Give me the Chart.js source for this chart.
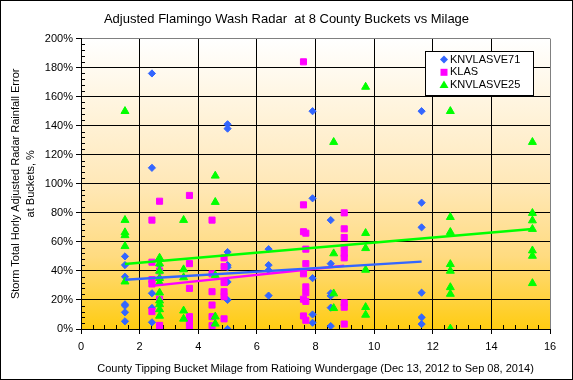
<!DOCTYPE html>
<html lang="en">
<head>
    <meta charset="UTF-8">
    <title>Adjusted Flamingo Wash Radar at 8 County Buckets vs Milage</title>
    <script src="https://cdn.jsdelivr.net/npm/chart.js"></script>
    <style>
        html, body {
            margin: 0;
            padding: 0;
            background: #fff;
        }
        .wrap {
            width: 573px;
            height: 380px;
        }
    </style>
</head>
<body>
    <div class="wrap"><canvas id="radarChart" width="573" height="380"></canvas></div>
    <script>
        // bucket milage (x) and the error readings (%) seen at each one
        const knv71Miles = [1.5, 2.42, 2.68, 5.0, 6.4, 7.9, 8.52, 11.62];
        const knv71Err = [
            [50, 44, 36, 17, 16, 11.5, 5.3],
            [176, 111, 24.6, 14.5, 4.6],
            [44, 35],
            [141, 138, 53, 44, 42.5, 32.4, 20, 0],
            [55, 44, 40.5, 23],
            [150, 90, 35, 10, 4.3],
            [75, 45, 24.6, 22.8, 14.7, 2],
            [150, 87, 70, 25, 8, 3.4]
        ];

        const klasMiles = [2.42, 2.68, 3.7, 4.47, 4.88, 7.59, 7.67, 8.98];
        const klasErr = [
            [75, 46, 34, 31, 12],
            [88, 40, 20.5, 2.5, 0.5],
            [92, 45, 28, 8.5, 5, 1.6],
            [75, 38, 25.7, 16.5, 8.5, 2.3],
            [49, 43, 32, 25.7, 22.3, 7],
            [184, 85.5, 67, 38, 20.5, 9],
            [66, 55, 45, 29, 25, 19, 6],
            [80, 69, 63, 56, 52, 49, 18, 15, 3.4]
        ];

        const knv25Miles = [1.5, 2.68, 3.5, 4.58, 8.62, 9.71, 12.6, 15.4];
        const knv25Err = [
            [150, 75, 66.5, 64.5, 57, 32.6],
            [49, 45, 40, 35, 32, 25, 19.5, 17, 13.5, 9],
            [75, 41, 35.5, 12.6, 7],
            [105.5, 87.4, 37, 8.5, 3.6],
            [128.7, 52, 24.4, 14.3],
            [166.7, 66, 55.6, 40.7, 15, 9.7],
            [150, 77, 66.7, 44.6, 40, 28.7, 24.1, 0.2],
            [128.7, 79.8, 74.7, 68.8, 54, 50.3, 31.5]
        ];

        // linear trend lines, end points
        const knv71TrendX = [1.5, 11.62];
        const knv71TrendY = [34, 46.4];
        const klasTrendX = [2.42, 8.98];
        const klasTrendY = [29.7, 43.5];
        const knv25TrendX = [1.5, 15.4];
        const knv25TrendY = [44.8, 68.8];

        const seriesNames = ["KNVLASVE71", "KLAS", "KNVLASVE25"];
        const seriesColors = ["#3366ff", "#ff00ff", "#00ff00"];

        function toPoints(miles, errs) {
            const pts = [];
            miles.forEach((m, i) => errs[i].forEach(e => pts.push({ x: m, y: e })));
            return pts;
        }
        function toLine(xs, ys) {
            return xs.map((x, i) => ({ x: x, y: ys[i] }));
        }

        Chart.defaults.font.family = "'Liberation Sans', Arial, sans-serif";
        Chart.defaults.font.size = 11;
        Chart.defaults.color = "#000";

        const chartBg = {
            id: "chartBg",
            beforeDraw(chart) {
                const { ctx, chartArea: a, width, height } = chart;
                ctx.save();
                ctx.fillStyle = "#fff";
                ctx.fillRect(0, 0, width, height);
                const g = ctx.createLinearGradient(0, a.top, 0, a.bottom);
                g.addColorStop(0, "#ffffff");
                g.addColorStop(0.5, "#ffe8b8");
                g.addColorStop(0.75, "#ffdb80");
                g.addColorStop(1, "#ffcc12");
                ctx.fillStyle = g;
                ctx.fillRect(a.left, a.top, a.right - a.left, a.bottom - a.top);
                ctx.restore();
            },
            afterDraw(chart) {
                const { ctx, width, height } = chart;
                ctx.save();
                ctx.strokeStyle = "#000";
                ctx.lineWidth = 1;
                ctx.strokeRect(0.5, 0.5, width - 1, height - 1);
                ctx.restore();
            }
        };

        // small inside ticks between the labelled ones
        const minorTicks = {
            id: "minorTicks",
            beforeDatasetsDraw(chart) {
                const { ctx, chartArea: a, scales } = chart;
                ctx.save();
                ctx.strokeStyle = "#000";
                ctx.lineWidth = 1;
                ctx.beginPath();
                for (let k = 1; k < 50; k++) {
                    if (k % 5 === 0) continue;
                    const y = Math.round(scales.y.getPixelForValue(k * 4)) + 0.5;
                    ctx.moveTo(a.left, y);
                    ctx.lineTo(a.left + 4, y);
                }
                for (let k = 1; k < 40; k++) {
                    if (k % 5 === 0) continue;
                    const x = Math.round(scales.x.getPixelForValue(k * 0.4)) + 0.5;
                    ctx.moveTo(x, a.bottom);
                    ctx.lineTo(x, a.bottom - 4);
                }
                ctx.stroke();
                ctx.restore();
            }
        };

        function drawMarker(ctx, style, x, y, color) {
            ctx.fillStyle = color;
            ctx.beginPath();
            if (style === "rectRot") {
                ctx.moveTo(x - 4, y); ctx.lineTo(x, y - 4); ctx.lineTo(x + 4, y); ctx.lineTo(x, y + 4);
            } else if (style === "rect") {
                ctx.rect(x - 3.5, y - 3.5, 7, 7);
            } else {
                ctx.moveTo(x, y - 4.5); ctx.lineTo(x + 4.5, y + 3); ctx.lineTo(x - 4.5, y + 3);
            }
            ctx.closePath();
            ctx.fill();
        }

        const boxLegend = {
            id: "boxLegend",
            afterDraw(chart) {
                const { ctx } = chart;
                const left = 425.5, top = 51.5, w = 108, h = 44;
                ctx.save();
                ctx.fillStyle = "#fff";
                ctx.fillRect(left, top, w, h);
                ctx.strokeStyle = "#000";
                ctx.lineWidth = 1;
                ctx.strokeRect(left, top, w, h);
                ctx.font = "11px 'Liberation Sans', Arial, sans-serif";
                ctx.textBaseline = "middle";
                chart.data.datasets.slice(0, 3).forEach((ds, i) => {
                    const cy = 59.5 + i * 12.8;
                    drawMarker(ctx, ds.pointStyle, 444, cy, ds.backgroundColor);
                    ctx.fillStyle = "#000";
                    ctx.fillText(ds.label, 450, cy);
                });
                ctx.restore();
            }
        };

        const ctx = document.getElementById("radarChart").getContext("2d");
        const radarChart = new Chart(ctx, {
            type: "scatter",
            data: {
                datasets: [
                    {
                        label: seriesNames[0],
                        data: toPoints(knv71Miles, knv71Err),
                        pointStyle: "rectRot",
                        pointRadius: 3.6,
                        borderWidth: 1,
                        backgroundColor: seriesColors[0],
                        borderColor: seriesColors[0],
                        order: 3
                    },
                    {
                        label: seriesNames[1],
                        data: toPoints(klasMiles, klasErr),
                        pointStyle: "rect",
                        pointRadius: 4.3,
                        borderWidth: 1,
                        backgroundColor: seriesColors[1],
                        borderColor: seriesColors[1],
                        order: 2
                    },
                    {
                        label: seriesNames[2],
                        data: toPoints(knv25Miles, knv25Err),
                        pointStyle: "triangle",
                        pointRadius: 4.6,
                        borderWidth: 1,
                        backgroundColor: seriesColors[2],
                        borderColor: seriesColors[2],
                        order: 1
                    },
                    {
                        label: "KNVLASVE71 trend",
                        data: toLine(knv71TrendX, knv71TrendY),
                        showLine: true,
                        pointRadius: 0,
                        borderWidth: 2.5,
                        borderColor: seriesColors[0],
                        order: 0
                    },
                    {
                        label: "KLAS trend",
                        data: toLine(klasTrendX, klasTrendY),
                        showLine: true,
                        pointRadius: 0,
                        borderWidth: 2.5,
                        borderColor: seriesColors[1],
                        order: 0
                    },
                    {
                        label: "KNVLASVE25 trend",
                        data: toLine(knv25TrendX, knv25TrendY),
                        showLine: true,
                        pointRadius: 0,
                        borderWidth: 2.5,
                        borderColor: seriesColors[2],
                        order: 0
                    }
                ]
            },
            options: {
                responsive: false,
                animation: false,
                layout: { padding: 0 },
                plugins: {
                    legend: { display: false },
                    tooltip: { enabled: false },
                    title: {
                        display: true,
                        text: "Adjusted Flamingo Wash Radar  at 8 County Buckets vs Milage",
                        color: "#000",
                        font: { size: 13, weight: "normal" },
                        padding: { top: 12, bottom: 11 }
                    }
                },
                scales: {
                    x: {
                        type: "linear",
                        min: 0,
                        max: 16,
                        ticks: { stepSize: 2, padding: 6, maxRotation: 0 },
                        grid: {
                            color: c => (c.tick && c.tick.value === 16 ? "#808080" : "#000"),
                            tickColor: "#000",
                            tickLength: 5
                        },
                        border: { color: "#000" },
                        title: {
                            display: true,
                            text: "County Tipping Bucket Milage from Ratioing Wundergage (Dec 13, 2012 to Sep 08, 2014)",
                            padding: { top: 0, bottom: 4 }
                        },
                        afterFit(s) { s.height = 51; }
                    },
                    y: {
                        type: "linear",
                        min: 0,
                        max: 200,
                        ticks: { stepSize: 20, padding: 3, callback: v => v + "%" },
                        grid: {
                            color: c => (c.tick && c.tick.value === 200 ? "#808080" : "#000"),
                            tickColor: "#000",
                            tickLength: 5
                        },
                        border: { color: "#000" },
                        title: {
                            display: true,
                            text: ["Storm Total Horly Adjusted Radar Rainfall Error", "at Buckets, %"],
                            font: { size: 11, lineHeight: 1.4 },
                            padding: { top: 8, bottom: 0 }
                        },
                        afterFit(s) { s.width = 81; }
                    },
                    yPad: {
                        type: "linear",
                        position: "right",
                        grid: { display: false },
                        ticks: { display: false },
                        border: { display: false },
                        afterFit(s) { s.width = 23; }
                    }
                }
            },
            plugins: [chartBg, minorTicks, boxLegend]
        });
    </script>
</body>
</html>
